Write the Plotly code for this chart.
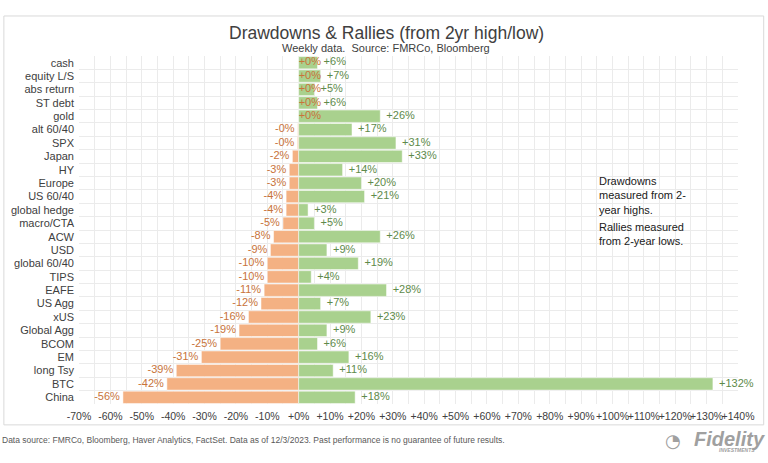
import plotly.graph_objects as go

categories = ["cash", "equity L/S", "abs return", "ST debt", "gold", "alt 60/40", "SPX", "Japan",
              "HY", "Europe", "US 60/40", "global hedge", "macro/CTA", "ACW", "USD", "global 60/40",
              "TIPS", "EAFE", "US Agg", "xUS", "Global Agg", "BCOM", "EM", "long Tsy", "BTC", "China"]
drawdowns = [0, 0, 0, 0, 0, -0.3, -0.4, -2, -3, -3, -4, -4, -5, -8, -9, -10, -10, -11, -12, -16,
             -19, -25, -31, -39, -42, -56]
rallies = [6, 7, 5, 6, 26, 17, 31, 33, 14, 20, 21, 3, 5, 26, 9, 19, 4, 28, 7, 23, 9, 6, 16, 11, 132, 18]
x_tickvals = list(range(-70, 141, 10))
x_ticktext = [f"{v:+d}%" if v != 0 else "+0%" for v in x_tickvals]

ORANGE = "#F4B183"
GREEN = "#A9D18E"
ORANGE_TXT = "#C8733A"
GREEN_TXT = "#5E8A4A"
FONT = "Liberation Sans, Arial, sans-serif"

fig = go.Figure()
fig.add_trace(go.Bar(y=categories, x=drawdowns, orientation="h", marker=dict(color=ORANGE, line=dict(color="white", width=0.5)),
                     hoverinfo="skip", showlegend=False))
fig.add_trace(go.Bar(y=categories, x=rallies, orientation="h", marker=dict(color=GREEN, line=dict(color="white", width=0.5)),
                     hoverinfo="skip", showlegend=False))

dd_text = [f"{v:+.0f}%" for v in drawdowns]
dd_pos = ["middle left" if v < 0 else "middle right" for v in drawdowns]
fig.add_trace(go.Scatter(y=categories, x=drawdowns, mode="text", text=[t + " " if v < 0 else t for t, v in zip(dd_text, drawdowns)],
                         textposition=dd_pos, cliponaxis=False,
                         textfont=dict(color=ORANGE_TXT, size=11, family=FONT), showlegend=False, hoverinfo="skip"))
fig.add_trace(go.Scatter(y=categories, x=rallies, mode="text", text=[f"  {v:+.0f}%" for v in rallies],
                         textposition="middle right", cliponaxis=False,
                         textfont=dict(color=GREEN_TXT, size=11, family=FONT), showlegend=False, hoverinfo="skip"))

fig.update_layout(
    width=768, height=463,
    margin=dict(l=79, r=30, t=56, b=59),
    barmode="overlay", bargap=0.08,
    paper_bgcolor="white", plot_bgcolor="white",
    font=dict(family=FONT, size=11, color="#404040"),
    xaxis=dict(range=[-70, 140], tickmode="array", tickvals=x_tickvals, ticktext=x_ticktext, tickangle=0,
               showgrid=True, automargin=False, ticklabelstandoff=4,
               gridcolor="#EBEBEB", gridwidth=1, zeroline=False, showline=False,
               tickfont=dict(size=10.5, color="#404040"),
               minor=dict(dtick=5, tick0=0, showgrid=True, gridcolor="#EBEBEB", gridwidth=1)),
    yaxis=dict(range=[len(categories) - 0.5, -0.5], autorange=False, type="category",
               tickmode="array", tickvals=categories, ticktext=categories,
               tickson="boundaries", showgrid=True, automargin=False,
               gridcolor="#EBEBEB", gridwidth=1, ticks="", showline=False,
               tickfont=dict(size=11, color="#404040"), ticklabelstandoff=4),
)

fig.add_shape(type="rect", xref="paper", yref="paper", x0=-0.114, x1=1.039, y0=-0.060, y1=1.115,
              line=dict(color="#D9D9D9", width=1), fillcolor="rgba(0,0,0,0)", layer="below")

fig.add_annotation(text="Drawdowns & Rallies (from 2yr high/low)", xref="paper", yref="paper",
                   x=(386 - 79) / 659, y=(404 - 33) / 348, showarrow=False, xanchor="center", yanchor="middle",
                   font=dict(size=17.5, color="#404040", family=FONT))
fig.add_annotation(text="Weekly data.  Source: FMRCo, Bloomberg", xref="paper", yref="paper",
                   x=(386 - 79) / 659, y=(404 - 48) / 348, showarrow=False, xanchor="center", yanchor="middle",
                   font=dict(size=11, color="#404040", family=FONT))
fig.add_annotation(text="Drawdowns<br>measured from 2-<br>year highs.", xref="paper", yref="paper",
                   x=(597 - 79) / 659, y=(404 - 173) / 348, showarrow=False, xanchor="left", yanchor="top",
                   align="left", font=dict(size=11, color="#202020", family=FONT))
fig.add_annotation(text="Rallies measured<br>from 2-year lows.", xref="paper", yref="paper",
                   x=(597 - 79) / 659, y=(404 - 219) / 348, showarrow=False, xanchor="left", yanchor="top",
                   align="left", font=dict(size=11, color="#202020", family=FONT))
fig.add_annotation(text="Data source: FMRCo, Bloomberg, Haver Analytics, FactSet. Data as of 12/3/2023. Past performance is no guarantee of future results.",
                   xref="paper", yref="paper", x=(0 - 79) / 659, y=(404 - 440) / 348, showarrow=False,
                   xanchor="left", yanchor="middle",
                   font=dict(size=8.5, color="#595959", family="Liberation Sans Narrow, Arial Narrow, sans-serif"))
fig.add_annotation(text="<b><i>Fidelity</i></b>", xref="paper", yref="paper",
                   x=(767 - 79) / 659, y=(404 - 439) / 348, showarrow=False, xanchor="right", yanchor="middle",
                   font=dict(size=20, color="#A0A0A0", family=FONT))
fig.add_annotation(text="<b><i>INVESTMENTS</i></b>", xref="paper", yref="paper",
                   x=(757 - 79) / 659, y=(404 - 450) / 348, showarrow=False, xanchor="right", yanchor="middle",
                   font=dict(size=5, color="#A0A0A0", family=FONT))
fig.add_annotation(text="◔", xref="paper", yref="paper",
                   x=(673 - 79) / 659, y=(404 - 440) / 348, showarrow=False, xanchor="center", yanchor="middle",
                   font=dict(size=18, color="#A0A0A0", family="DejaVu Sans"))

fig.write_html("out.html", config={"displayModeBar": False},
               post_script="document.body.style.margin='0';document.body.style.overflow='hidden';")
